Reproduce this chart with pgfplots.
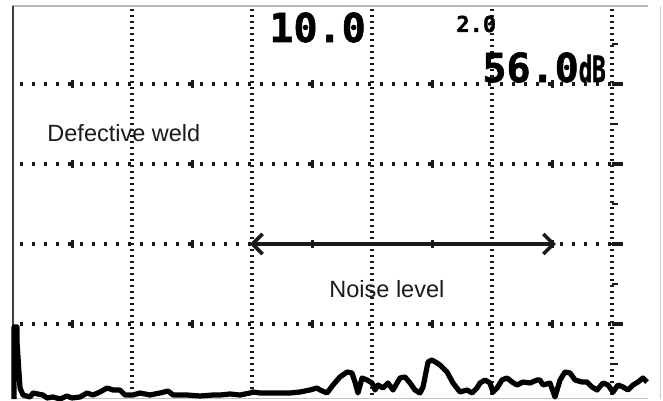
\documentclass[border=0pt]{standalone}
\usepackage{pgfplots}
\pgfplotsset{compat=1.18}
\usepackage{fontspec}
\setmainfont{Liberation Sans}
\newfontfamily\mono{DejaVu Sans Mono}[BoldFeatures={FakeBold=1.5}]
\usetikzlibrary{arrows.meta}
\definecolor{ink}{HTML}{1A1A1A}
\begin{document}
\begin{tikzpicture}
\begin{axis}[
  name=ax,
  x=60pt, y=40pt,
  xmin=0, xmax=5.4, ymin=0.0625, ymax=4.9875,
  axis line style={draw=none},
  xtick=\empty, ytick=\empty,
  clip=false,
]
% frame
\draw[gray!55, line width=1pt] (axis cs:0,4.975) -- (axis cs:5.3,4.975);
\draw[gray!40, line width=0.5pt] (axis cs:5.4,4.975) -- (axis cs:5.4,0.0625);
\draw[gray!50, line width=0.6pt] (axis cs:0,0.07) -- (axis cs:5.3,0.07);
\draw[black!75, line width=1.3pt] (axis cs:0.008,4.975) -- (axis cs:0.008,0.0625);
% vertical dotted grid
\pgfplotsinvokeforeach{1,2,3,4,5}{
  \draw[ink, line width=1.6pt, dash pattern=on 1.3pt off 1.7pt] (axis cs:#1,4.94) -- (axis cs:#1,0.08);
}
% horizontal dotted grid
\pgfplotsinvokeforeach{1,2,3,4}{
  \draw[ink, line width=1.7pt, dash pattern=on 1.6pt off 4.4pt] (axis cs:0.067,#1) -- (axis cs:5.067,#1);
  \draw[ink, line width=1.5pt] (axis cs:0.5,#1) ++(0pt,-1.8pt) -- ++(0pt,3.6pt);
  \draw[ink, line width=1.5pt] (axis cs:1.5,#1) ++(0pt,-1.8pt) -- ++(0pt,3.6pt);
  \draw[ink, line width=1.5pt] (axis cs:2.5,#1) ++(0pt,-1.8pt) -- ++(0pt,3.6pt);
  \draw[ink, line width=1.5pt] (axis cs:3.5,#1) ++(0pt,-1.8pt) -- ++(0pt,3.6pt);
  \draw[ink, line width=1.5pt] (axis cs:4.5,#1) ++(0pt,-1.8pt) -- ++(0pt,3.6pt);
  \draw[ink, line width=1.8pt] (axis cs:5.0,#1) -- ++(5.4pt,0pt);
}
\pgfplotsinvokeforeach{0.5,1.5,2.5,3.5,4.5}{
  \draw[ink, line width=1.4pt] (axis cs:5.0,#1) -- ++(3pt,0pt);
}
% trace
\addplot[black, line width=2.6pt, line join=round] coordinates {
(0.017,0.0625) (0.017,0.9625) (0.042,0.9625) (0.042,0.775) (0.058,0.4)
(0.067,0.2) (0.092,0.1125) (0.15,0.0875) (0.175,0.1375) (0.258,0.1125)
(0.292,0.075) (0.342,0.0875) (0.4,0.0625) (0.458,0.1) (0.5,0.075)
(0.567,0.0875) (0.625,0.1375) (0.675,0.1125) (0.733,0.15) (0.792,0.2)
(0.842,0.175) (0.9,0.175) (0.942,0.1125) (1.008,0.1125) (1.067,0.1375)
(1.15,0.1125) (1.233,0.1375) (1.3,0.1625) (1.342,0.1125) (1.458,0.1125)
(1.567,0.1) (1.675,0.1125) (1.733,0.1125) (1.817,0.125) (1.9,0.1125)
(1.983,0.1375) (2.008,0.15) (2.067,0.1375) (2.15,0.1375) (2.233,0.1375)
(2.317,0.1375) (2.4,0.15) (2.483,0.175) (2.542,0.2) (2.567,0.175)
(2.625,0.1375) (2.675,0.2375) (2.733,0.3375) (2.792,0.4) (2.833,0.3875)
(2.858,0.275) (2.883,0.1375) (2.917,0.325) (2.958,0.3) (3.0,0.2625)
(3.025,0.175) (3.05,0.2375) (3.092,0.2) (3.133,0.2625) (3.175,0.175)
(3.233,0.325) (3.275,0.3375) (3.317,0.2625) (3.358,0.175) (3.4,0.1375)
(3.425,0.2125) (3.467,0.525) (3.5,0.55) (3.542,0.5125) (3.567,0.4875)
(3.625,0.4) (3.675,0.2625) (3.733,0.15) (3.792,0.175) (3.833,0.1375)
(3.875,0.2) (3.9,0.2625) (3.942,0.3) (3.983,0.2625) (4.008,0.15)
(4.042,0.2) (4.083,0.3) (4.125,0.325) (4.167,0.275) (4.208,0.2375)
(4.258,0.275) (4.317,0.2625) (4.375,0.3) (4.4,0.3) (4.425,0.2375)
(4.483,0.2625) (4.525,0.0875) (4.567,0.3) (4.608,0.4) (4.65,0.3875)
(4.692,0.3) (4.75,0.275) (4.792,0.275) (4.833,0.2125) (4.875,0.175)
(4.925,0.2625) (4.967,0.2375) (5.008,0.15) (5.05,0.2375) (5.092,0.2125)
(5.133,0.175) (5.175,0.2375) (5.217,0.275) (5.258,0.325) (5.292,0.275)
};
% arrow
\draw[ink, line width=1.8pt, {Straight Barb[length=5pt,width=10pt,line width=1.8pt]}-{Straight Barb[length=5pt,width=10pt,line width=1.8pt]}]
  (axis cs:1.983,2.0) -- (axis cs:4.533,2.0);
% texts
\node[anchor=base west, inner sep=0, text=ink, font=\fontsize{11.75pt}{12pt}\selectfont] at (axis cs:0.292,3.275) {Defective weld};
\node[anchor=base west, inner sep=0, text=ink, font=\fontsize{11.75pt}{12pt}\selectfont] at (axis cs:2.642,1.3375) {Noise level};
\node[anchor=base west, inner sep=0, text=black, font=\mono\bfseries\fontsize{20pt}{20pt}\selectfont] at (axis cs:2.142,4.525) {10.0};
\node[anchor=base west, inner sep=0, text=black, font=\mono\bfseries\fontsize{11pt}{11pt}\selectfont] at (axis cs:3.7,4.65) {2.0};
\node[anchor=base west, inner sep=0, text=black, font=\mono\bfseries\fontsize{20pt}{20pt}\selectfont] at (axis cs:3.917,4.025) {56.0\scalebox{0.56}[0.9]{dB}};
\end{axis}
\pgfresetboundingbox
\path[use as bounding box] ([shift={(-6pt,-1pt)}]ax.south west) rectangle ([shift={(1.5pt,2.5pt)}]ax.north east);
\end{tikzpicture}
\end{document}
